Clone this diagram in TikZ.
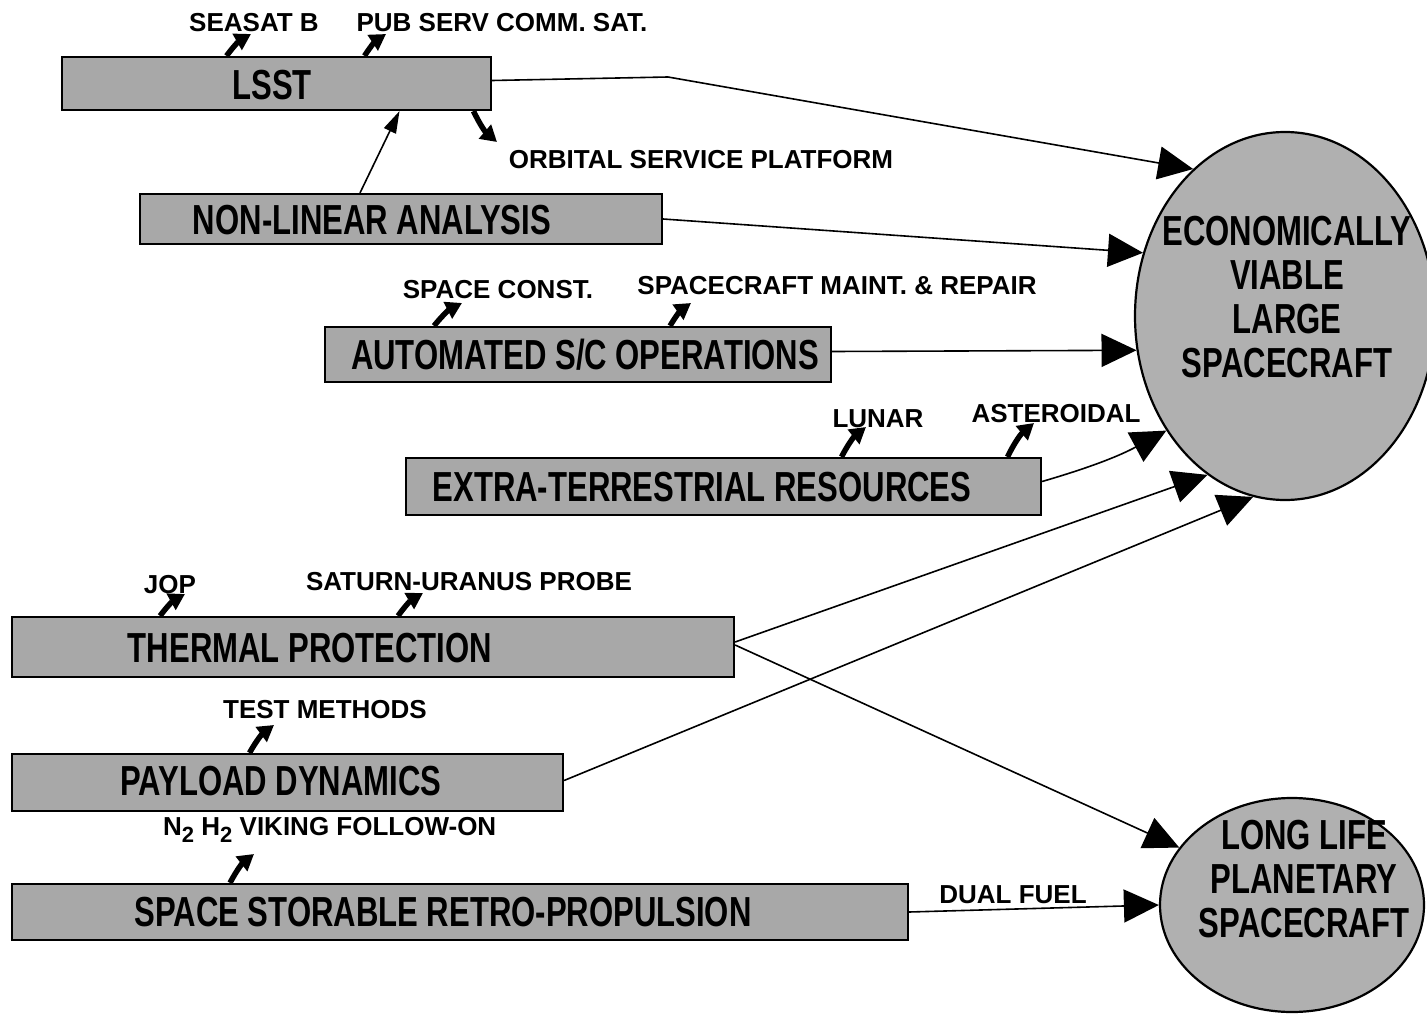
\documentclass[tikz,border=0pt]{standalone}
\usepackage{fontspec}
\setmainfont{Liberation Sans}
\newfontfamily\condfont{Liberation Sans}[FakeStretch=0.74]
\usetikzlibrary{arrows.meta,shapes.geometric}

\begin{document}
\begin{tikzpicture}[x=1pt,y=-1pt,
  box/.style={draw=black,line width=2.2pt,fill=black!34,rectangle,inner sep=0pt},
  boxtext/.style={font=\condfont\bfseries\fontsize{42}{42}\selectfont,inner sep=0pt},
  goal/.style={draw=black,line width=2.2pt,fill=black!31,ellipse,inner sep=0pt},
  goaltext/.style={font=\condfont\bfseries\fontsize{42}{44}\selectfont,align=center,inner sep=0pt},
  lab/.style={font=\bfseries\fontsize{26}{26}\selectfont,inner sep=0pt,anchor=base},
  big/.style={line width=1.6pt,-{Triangle[length=35pt,width=33pt]}},
  spin/.style={line width=5.5pt,-{Triangle[length=16pt,width=18pt]}},
  thin/.style={line width=1.6pt,-{Triangle[length=22pt,width=13pt]}}
]
\useasboundingbox (0,0) rectangle (1427,1014);
\fill[white] (0,0) rectangle (1427,1014);

% goals
\node[goal,minimum width=300pt,minimum height=368pt] (eco) at (1285,316) {};
\node[goaltext] (ecot) at (1287,297) {ECONOMICALLY\\VIABLE\\LARGE\\SPACECRAFT};
\node[goal,minimum width=264pt,minimum height=214pt] (llp) at (1292,905) {};
\node[goaltext] (llpt) at (1304,879) {LONG LIFE\\PLANETARY\\SPACECRAFT};

% technology boxes
\node[box,minimum width=429pt,minimum height=53pt] (lsst) at (276.5,83.5) {};
\node[boxtext] (lsstt) at (272,85) {LSST};
\node[box,minimum width=522pt,minimum height=50pt] (nla) at (401,219) {};
\node[boxtext] (nlat) at (372,220) {NON-LINEAR ANALYSIS};
\node[box,minimum width=506pt,minimum height=55pt] (aso) at (578,354.5) {};
\node[boxtext] (asot) at (585,355) {AUTOMATED S/C OPERATIONS};
\node[box,minimum width=635pt,minimum height=57pt] (etr) at (723.5,486.5) {};
\node[boxtext] (etrt) at (702,487) {EXTRA-TERRESTRIAL RESOURCES};
\node[box,minimum width=722pt,minimum height=60pt] (thp) at (373,647) {};
\node[boxtext] (thpt) at (310,648) {THERMAL PROTECTION};
\node[box,minimum width=551pt,minimum height=57pt] (pld) at (287.5,782.5) {};
\node[boxtext] (pldt) at (281,781) {PAYLOAD DYNAMICS};
\node[box,minimum width=896pt,minimum height=56pt] (ssr) at (460,912) {};
\node[boxtext] (ssrt) at (443,912) {SPACE STORABLE RETRO-PROPULSION};

% application labels
\node[lab] (seasat) at (254,32) {SEASAT B};
\node[lab] (pubserv) at (502,32) {PUB SERV COMM. SAT.};
\node[lab] (orbital) at (701,168) {ORBITAL SERVICE PLATFORM};
\node[lab] (spconst) at (498,298) {SPACE CONST.};
\node[lab] (scmaint) at (837,294) {SPACECRAFT MAINT. \& REPAIR};
\node[lab] (lunar) at (878,427) {LUNAR};
\node[lab] (aster) at (1056,422) {ASTEROIDAL};
\node[lab] (jop) at (170,593) {JOP};
\node[lab] (saturn) at (469,590) {SATURN-URANUS PROBE};
\node[lab] (testm) at (325,718) {TEST METHODS};
\node[lab,anchor=base west] (viking) at (163,835) {N\raisebox{-7pt}{\fontsize{22}{22}\selectfont 2} H\raisebox{-7pt}{\fontsize{22}{22}\selectfont 2} VIKING FOLLOW-ON};
\node[lab] (dual) at (1013,903) {DUAL FUEL};

% ends of the short application arrows
\coordinate (aSeasat) at (251,34);
\coordinate (aPub) at (386,34);
\coordinate (aOrb) at (497,142);
\coordinate (aSpc) at (462,303);
\coordinate (aScm) at (691,303);
\coordinate (aLun) at (866,427);
\coordinate (aAst) at (1034,423);
\coordinate (aJop) at (185,594);
\coordinate (aSat) at (423,593);
\coordinate (aTst) at (274,725);
\coordinate (aVik) at (254,854);

\draw[spin] ([xshift=-50pt]lsst.north) to[bend left=12] (aSeasat);
\draw[spin] ([xshift=88pt]lsst.north) to[bend left=12] (aPub);
\draw[spin] ([xshift=197pt]lsst.south) to[bend right=12] (aOrb);
\draw[spin] ([xshift=-144pt]aso.north) to[bend left=12] (aSpc);
\draw[spin] ([xshift=92pt]aso.north) to[bend left=12] (aScm);
\draw[spin] ([xshift=118pt]etr.north) to[bend left=12] (aLun);
\draw[spin] ([xshift=284pt]etr.north) to[bend left=12] (aAst);
\draw[spin] ([xshift=-213pt]thp.north) to[bend left=12] (aJop);
\draw[spin] ([xshift=25pt]thp.north) to[bend left=12] (aSat);
\draw[spin] ([xshift=-38pt]pld.north) to[bend left=12] (aTst);
\draw[spin] ([xshift=-230pt]ssr.north) to[bend left=12] (aVik);

% dependency between technologies
\draw[thin] ([xshift=-41pt]nla.north) -- ([xshift=123pt]lsst.south);

% contributions to the goals
\coordinate (k1) at (668,77);
\draw[big] ([yshift=3pt]lsst.east) -- (k1) -- (eco.122.5);
\draw[big] (nla.east) -- (eco.156.4);
\draw[big] ([yshift=3pt]aso.east) -- (eco.193.2);
\draw[big] ([yshift=5pt]etr.east) to[bend right=6] (eco.224.3);
\draw[big] ([yshift=5pt]thp.east) -- (eco.244.1);
\draw[big] ([yshift=2pt]pld.east) -- (eco.260.6);
\draw[big] ([yshift=2pt]thp.east) -- (llp.153);
\draw[big] (ssr.east) -- (llp.west);
\end{tikzpicture}
\end{document}
